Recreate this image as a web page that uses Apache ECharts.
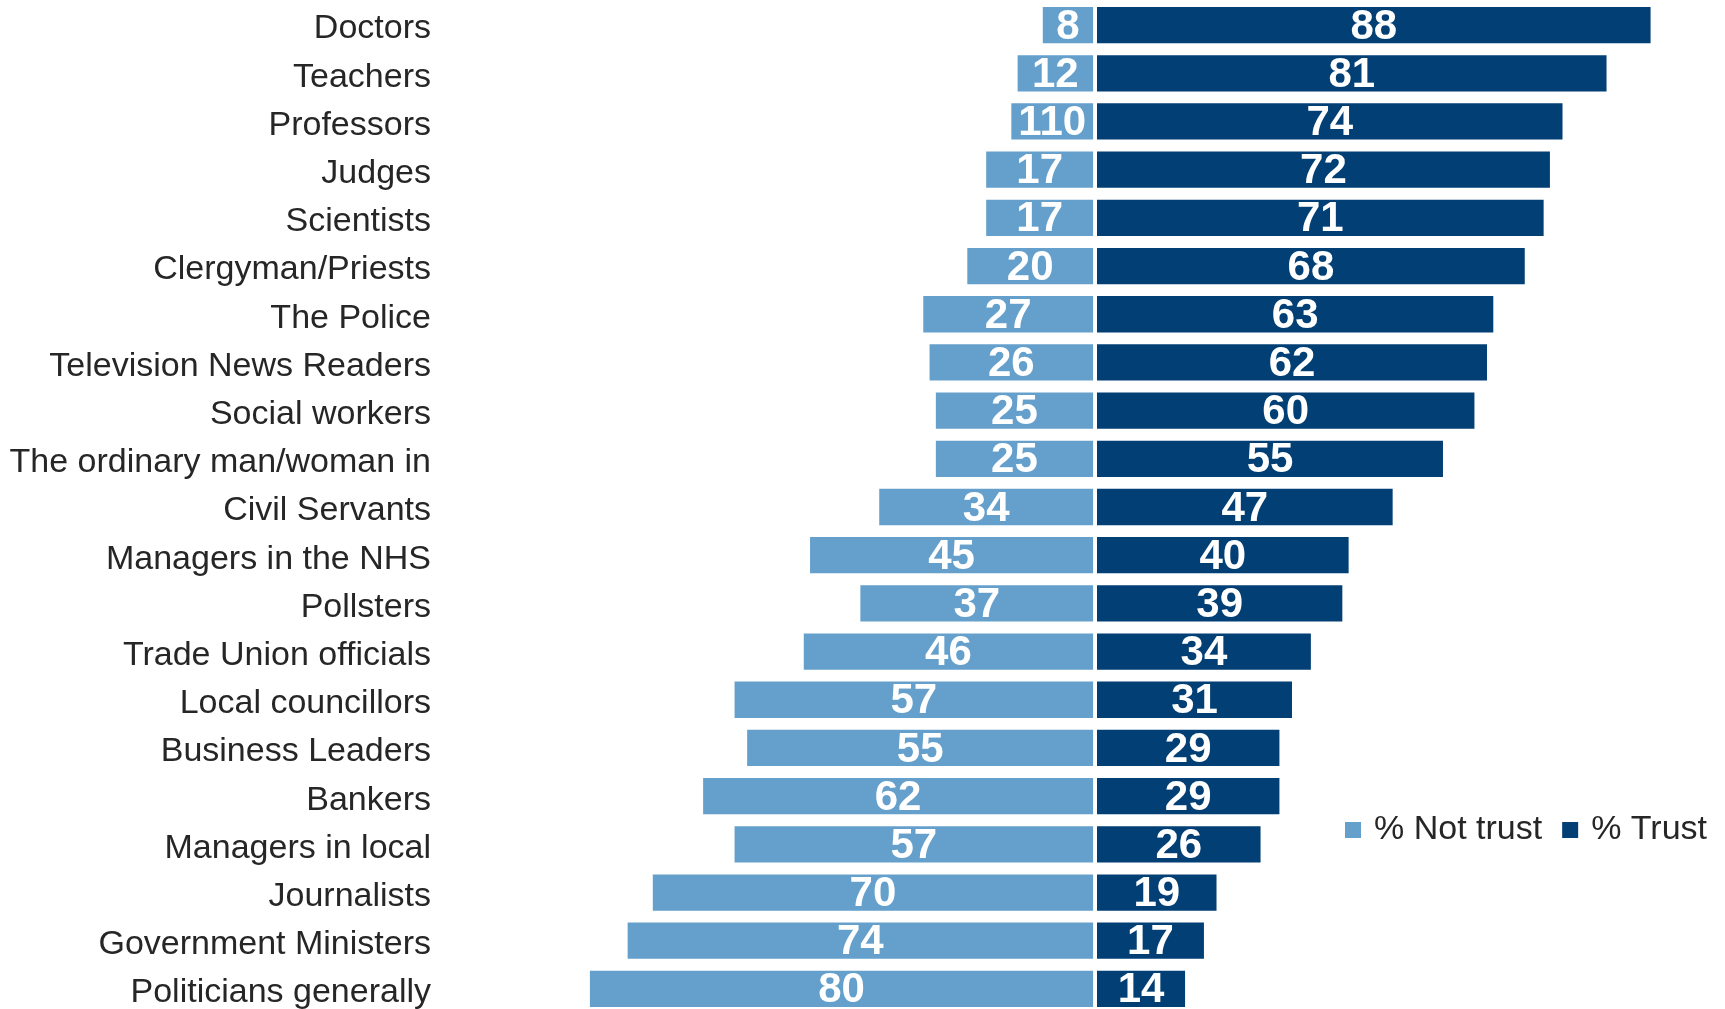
<!DOCTYPE html>
<html><head><meta charset="utf-8">
<script src="https://cdn.jsdelivr.net/npm/echarts@6/dist/echarts.min.js"></script>
<style>html,body{margin:0;padding:0;background:#fff}#c{width:1725px;height:1009px}</style>
</head><body><div id="c"></div>
<script>
const categories = ["Doctors","Teachers","Professors","Judges","Scientists","Clergyman/Priests","The Police","Television News Readers","Social workers","The ordinary man/woman in","Civil Servants","Managers in the NHS","Pollsters","Trade Union officials","Local councillors","Business Leaders","Bankers","Managers in local","Journalists","Government Ministers","Politicians generally"];
const notTrust = [8,12,13,17,17,20,27,26,25,25,34,45,37,46,57,55,62,57,70,74,80];
const notTrustLabels = ["8","12","110","17","17","20","27","26","25","25","34","45","37","46","57","55","62","57","70","74","80"];
const trust = [88,81,74,72,71,68,63,62,60,55,47,40,39,34,31,29,29,26,19,17,14];
const seriesNames = ["% Not trust","% Trust"];

const LIGHT = "#64A0CB", DARK = "#023F74";
const labelStyle = {show:true, position:'inside', color:'#fff', fontFamily:'"Liberation Sans", Arial, sans-serif', fontWeight:'bold', fontSize:42, offset:[0,2]};
const gridBase = {outerBoundsMode:'none', containLabel:false, height:1012};
const chart = echarts.init(document.getElementById('c'));
chart.setOption({
  animation:false,
  legend:{data:seriesNames, left:1340, top:808, itemWidth:16, itemHeight:16, itemGap:20, icon:'rect',
    textStyle:{fontFamily:'Liberation Sans, Arial, sans-serif', fontSize:34, color:'#262626', padding:[0,0,0,8]}},
  grid:[
    Object.assign({left:527, width:566.1, top:1}, gridBase),
    Object.assign({left:1097, width:597.6, top:1}, gridBase),
    Object.assign({left:527, width:566.1, top:5}, gridBase)
  ],
  xAxis:[
    {gridIndex:0, type:'value', min:0, max:90, inverse:true, show:false},
    {gridIndex:1, type:'value', min:0, max:95, show:false},
    {gridIndex:2, type:'value', min:0, max:90, show:false}
  ],
  yAxis:[
    {gridIndex:0, type:'category', data:categories, inverse:true, show:false},
    {gridIndex:1, type:'category', data:categories, inverse:true, show:false},
    {gridIndex:2, type:'category', data:categories, inverse:true, axisLine:{show:false}, axisTick:{show:false},
      axisLabel:{margin:96, fontFamily:'Liberation Sans, Arial, sans-serif', fontSize:34, color:'#262626'}}
  ],
  series:[
    {name:seriesNames[0], type:'bar', xAxisIndex:0, yAxisIndex:0, data:notTrust, barCategoryGap:'24.7%', itemStyle:{color:LIGHT},
      label:Object.assign({}, labelStyle, {formatter:p=>notTrustLabels[p.dataIndex]})},
    {name:seriesNames[1], type:'bar', xAxisIndex:1, yAxisIndex:1, data:trust, barCategoryGap:'24.7%', itemStyle:{color:DARK},
      label:labelStyle}
  ]
});
</script></body></html>
